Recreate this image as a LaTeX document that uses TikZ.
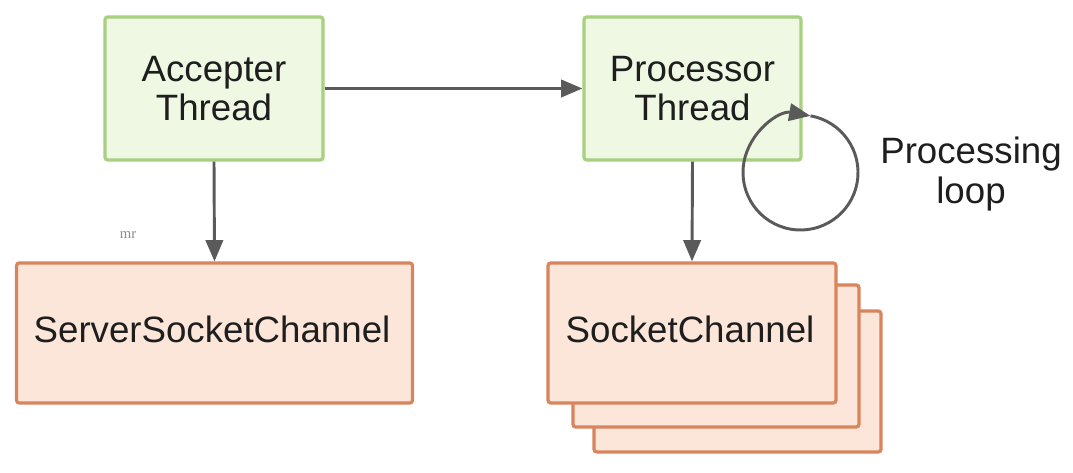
\documentclass[tikz,border=0pt]{standalone}
\usepackage{fontspec}
\setmainfont{Liberation Sans}
\newfontfamily\wmfont{Liberation Serif}
\usetikzlibrary{arrows.meta}
\definecolor{gfill}{HTML}{EEF8E3}
\definecolor{gline}{HTML}{A7D07F}
\definecolor{ofill}{HTML}{FCE6DA}
\definecolor{oline}{HTML}{D8845C}
\definecolor{arrgray}{HTML}{5A5A5A}
\definecolor{txt}{HTML}{1E1E1E}
\tikzset{
  greenbox/.style={draw=gline, fill=gfill, line width=2.4pt, rounded corners=2pt,
    inner sep=0pt, align=center, text=txt,
    font=\fontsize{27.5}{29.5}\selectfont},
  orangebox/.style={draw=oline, fill=ofill, line width=2.4pt, rounded corners=2pt,
    inner sep=0pt, text=txt, font=\fontsize{27.5}{29.5}\selectfont},
  arr/.style={draw=arrgray, line width=2.2pt, -{Triangle[length=16pt,width=13pt]}},
  lbl/.style={align=center, text=txt, font=\fontsize{27.5}{29.5}\selectfont}
}
\begin{document}
\begin{tikzpicture}[x=0.75pt,y=-0.75pt]
\useasboundingbox (0,0) rectangle (1073,473);
% boxes
\node[greenbox, minimum width=218*0.75pt, minimum height=143*0.75pt] (acc) at (214,88.5) {Accepter\\Thread};
\node[greenbox, minimum width=217*0.75pt, minimum height=143*0.75pt] (proc) at (692.5,88.5) {Processor\\Thread};
\node[orangebox, minimum width=396*0.75pt, minimum height=140*0.75pt] (ssc) at (214.5,333) {};
\node[txt, font=\fontsize{27.5}{29.5}\selectfont] (ssct) at (212,329) {ServerSocketChannel};
\node[orangebox, minimum width=287*0.75pt, minimum height=141*0.75pt] (sc3) at (737.5,381.5) {};
\node[orangebox, minimum width=286*0.75pt, minimum height=142*0.75pt] (sc2) at (716,356) {};
\node[orangebox, minimum width=288*0.75pt, minimum height=140*0.75pt] (sc1) at (692,333) {};
\node[txt, font=\fontsize{27.5}{29.5}\selectfont] (sct) at (690,329) {SocketChannel};
% connectors
\draw[arr] (acc.east) -- (proc.west);
\draw[arr] (acc.south) -- (ssc.north);
\draw[arr] (proc.south) -- (sc1.north);
% processing loop
\coordinate (loopc) at (800.5,172.5);
\draw[draw=arrgray, line width=2.2pt, -{Triangle[length=16pt,width=13pt]}]
  ([shift={(-80:57.5)}]loopc) arc[start angle=-80, end angle=280, radius=57.5];
\node[lbl] (looplbl) at (971,174) {Processing\\loop};
% watermark
\node[text=black!45, font=\wmfont\fontsize{11}{12}\selectfont] (wm) at (128,235) {mr};
\end{tikzpicture}
\end{document}
